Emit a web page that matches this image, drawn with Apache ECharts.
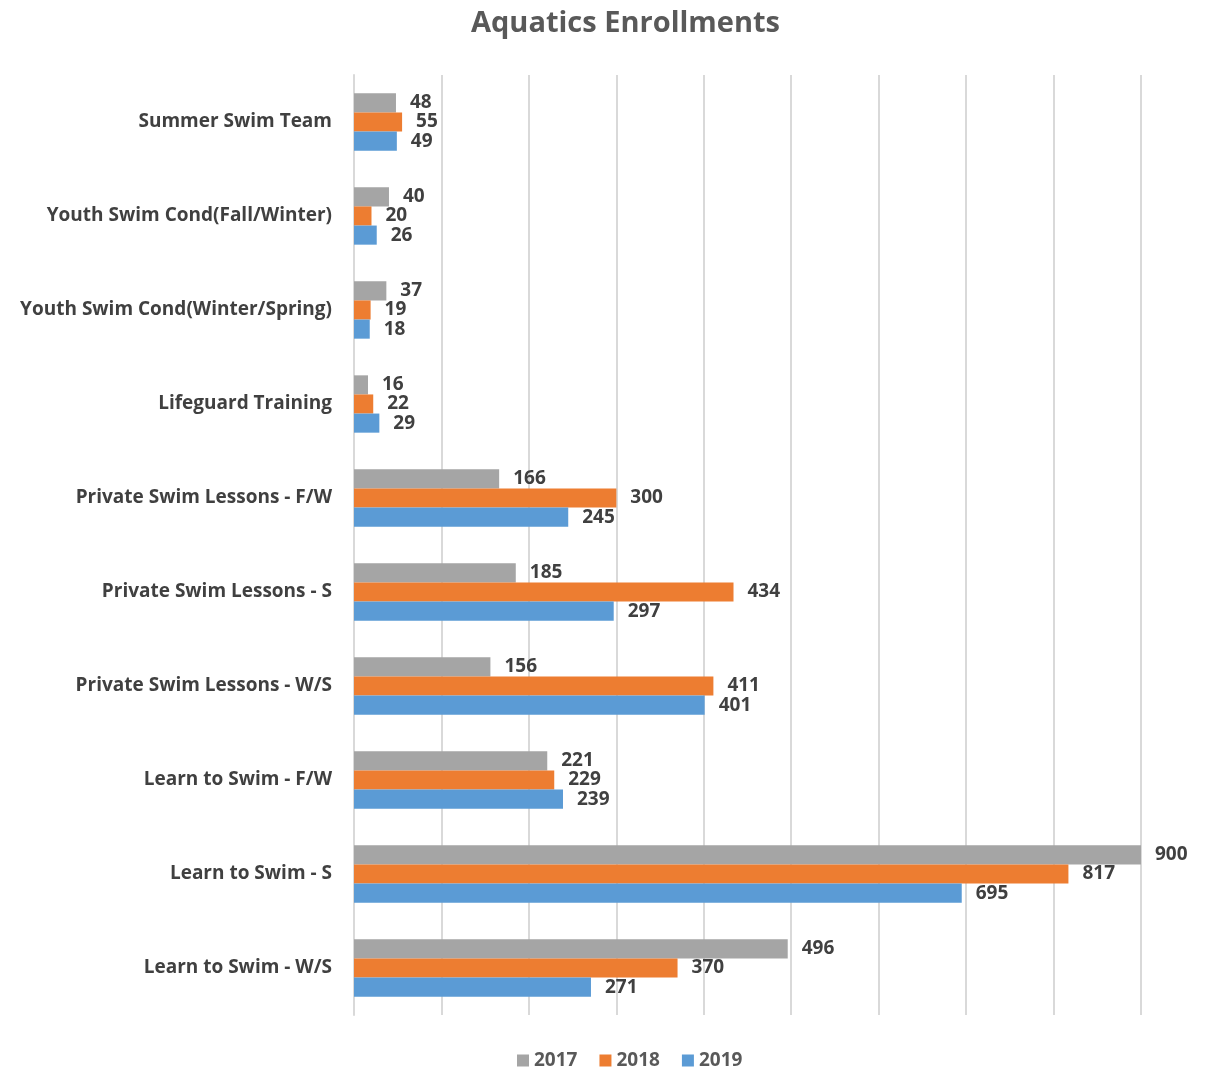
<!DOCTYPE html>
<html>
<head>
<meta charset="utf-8">
<script src="https://cdn.jsdelivr.net/npm/echarts@6/dist/echarts.min.js"></script>
<style>
  html, body { margin: 0; padding: 0; background: #fff; }
  #main { width: 1220px; height: 1073px; }
</style>
</head>
<body>
<div id="main"></div>
<script>
var categories = [
  "Summer Swim Team",
  "Youth Swim Cond(Fall/Winter)",
  "Youth Swim Cond(Winter/Spring)",
  "Lifeguard Training",
  "Private Swim Lessons - F/W",
  "Private Swim Lessons - S",
  "Private Swim Lessons - W/S",
  "Learn to Swim - F/W",
  "Learn to Swim - S",
  "Learn to Swim - W/S"
];
var years = ["2017", "2018", "2019"];
var values2017 = [48, 40, 37, 16, 166, 185, 156, 221, 900, 496];
var values2018 = [55, 20, 19, 22, 300, 434, 411, 229, 817, 370];
var values2019 = [49, 26, 18, 29, 245, 297, 401, 239, 695, 271];
var colors = ["#A5A5A5", "#ED7D31", "#5B9BD5"];

var font = "'Open Sans', Lato, sans-serif";
var myChart = echarts.init(document.getElementById("main"));

function makeSeries(name, data, color) {
  return {
    name: name,
    type: "bar",
    data: data,
    barGap: "0%",
    barCategoryGap: "39%",
    itemStyle: { color: color },
    label: {
      show: true,
      position: "right",
      distance: 14,
      fontFamily: font,
      fontSize: 19,
      fontWeight: "bold",
      color: "#404040"
    }
  };
}

var option = {
  animation: false,
  color: colors,
  title: {
    text: "Aquatics Enrollments",
    left: 466,
    top: 4,
    textStyle: {
      fontFamily: font,
      fontSize: 29,
      fontWeight: "bold",
      color: "#595959"
    }
  },
  legend: {
    bottom: -2,
    left: 512,
    itemWidth: 12,
    itemHeight: 12,
    itemGap: 22,
    icon: "rect",
    data: years,
    textStyle: {
      fontFamily: font,
      fontSize: 19,
      fontWeight: "bold",
      color: "#595959"
    }
  },
  grid: { left: 354, right: 79, top: 75, bottom: 58 },
  xAxis: {
    type: "value",
    min: 0,
    max: 900,
    interval: 100,
    axisLabel: { show: false },
    axisLine: { show: false },
    axisTick: { show: false },
    splitLine: { lineStyle: { color: "#D9D9D9", width: 2 } }
  },
  yAxis: {
    type: "category",
    data: categories,
    inverse: true,
    axisTick: { show: false },
    axisLine: { show: true, lineStyle: { color: "#D9D9D9", width: 2 } },
    axisLabel: {
      margin: 22,
      fontFamily: font,
      fontSize: 19,
      fontWeight: "bold",
      color: "#404040"
    }
  },
  series: [
    makeSeries(years[0], values2017, colors[0]),
    makeSeries(years[1], values2018, colors[1]),
    makeSeries(years[2], values2019, colors[2])
  ]
};

option && myChart.setOption(option);
</script>
</body>
</html>
